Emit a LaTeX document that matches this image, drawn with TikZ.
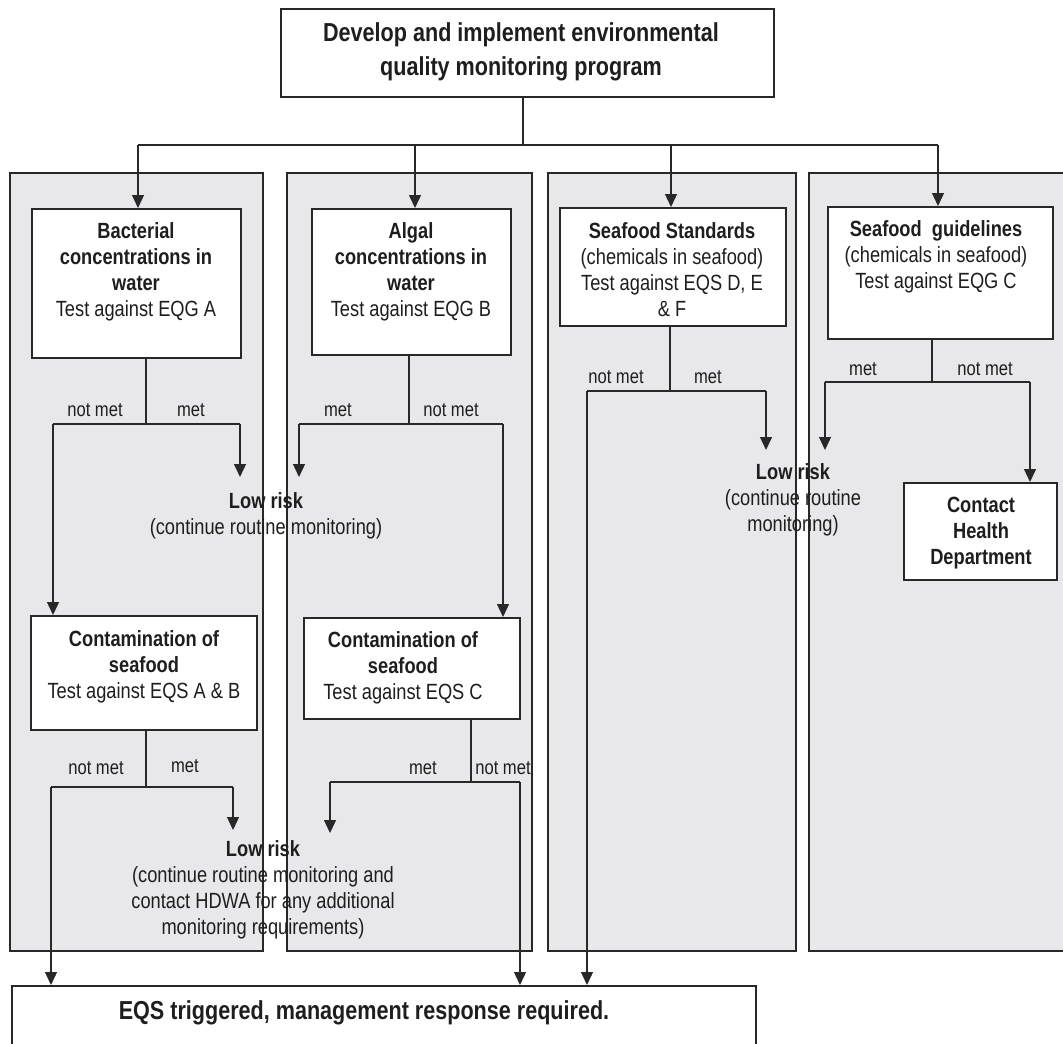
\documentclass[tikz,border=0pt]{standalone}
\usepackage{fontspec}
\setmainfont{Liberation Sans}[FakeStretch=0.83]
\usetikzlibrary{arrows.meta}
\definecolor{ln}{RGB}{40,40,40}
\definecolor{pnl}{RGB}{232,232,235}
\definecolor{txt}{RGB}{30,30,30}
\begin{document}
\begin{tikzpicture}[x=1pt,y=-1pt,
  panel/.style={draw=ln,line width=1.6pt,fill=pnl},
  box/.style={draw=ln,line width=1.6pt,fill=white,inner sep=0pt,anchor=north west},
  body/.style={font=\fontsize{22}{26}\selectfont,align=center,text=txt,inner sep=0pt},
  big/.style={font=\fontsize{26}{34}\selectfont\bfseries,align=center,text=txt,inner sep=0pt},
  lab/.style={font=\fontsize{20}{24}\selectfont,text=txt,inner sep=0pt},
  conn/.style={draw=ln,line width=1.3pt},
  arr/.style={conn,-{Triangle[length=13pt,width=12pt]}}]
\useasboundingbox (0,0) rectangle (1063,1044);
\clip (0,0) rectangle (1063,1044);

% column panels
\draw[panel] (10,173) rectangle (263,951);
\draw[panel] (287,173) rectangle (532,951);
\draw[panel] (548,173) rectangle (796,951);
\draw[panel] (809,173) rectangle (1075,951);

% boxes
\node[box,minimum width=493pt,minimum height=88pt] (top) at (280,8) {};
\node[big] (topt) at (521,52) {Develop and implement environmental\\quality monitoring program};
\node[box,minimum width=209pt,minimum height=149pt] (bact) at (31,208) {};
\node[box,minimum width=199pt,minimum height=146pt] (alg) at (311,208) {};
\node[box,minimum width=226pt,minimum height=118pt] (std) at (559,207) {};
\node[box,minimum width=225pt,minimum height=132pt] (gdl) at (827,206) {};
\node[box,minimum width=226pt,minimum height=114pt] (con1) at (30,615) {};
\node[box,minimum width=216pt,minimum height=101pt] (con2) at (303,617) {};
\node[box,minimum width=153pt,minimum height=97pt] (hd) at (903,482) {};
\node[box,minimum width=744pt,minimum height=90pt] (eqs) at (11,985) {};

% box texts
\node[body] (bactt) at (136,272) {\textbf{Bacterial}\\\textbf{concentrations in}\\\textbf{water}\\Test against EQG A};
\node[body] (algt) at (411,272) {\textbf{Algal}\\\textbf{concentrations in}\\\textbf{water}\\Test against EQG B};
\node[body] (stdt) at (672,270) {\textbf{Seafood Standards}\\(chemicals in seafood)\\Test against EQS D, E\\\& F};
\node[body] (gdlt) at (936,257) {\textbf{Seafood\ \ guidelines}\\(chemicals in seafood)\\Test against EQG C};
\node[body] (con1t) at (144,667) {\textbf{Contamination of}\\\textbf{seafood}\\Test against EQS A \& B};
\node[body] (con2t) at (403,668) {\textbf{Contamination of}\\\textbf{seafood}\\Test against EQS C};
\node[body] (hdt) at (981,533) {\textbf{Contact}\\\textbf{Health}\\\textbf{Department}};
\node[big] (eqst) at (364,1013) {EQS triggered, management response required.};

% outcome texts
\node[body] (lr1) at (266,516) {\textbf{Low risk}\\(continue routine monitoring)};
\node[body] (lr2) at (263,890) {\textbf{Low risk}\\(continue routine monitoring and\\contact HDWA for any additional\\monitoring requirements)};
\node[body] (lr3) at (793,500) {\textbf{Low risk}\\(continue routine\\monitoring)};

% distribution from the programme box
\coordinate (hub) at (523,145);
\coordinate (a1) at (138,145);
\coordinate (a2) at (415,145);
\coordinate (a3) at (671,145);
\coordinate (a4) at (938,145);
\draw[conn] (hub |- top.south) -- (hub);
\draw[conn] (a1) -- (a4);
\draw[arr] (a1) -- (a1 |- bact.north);
\draw[arr] (a2) -- (a2 |- alg.north);
\draw[arr] (a3) -- (a3 |- std.north);
\draw[arr] (a4) -- (a4 |- gdl.north);

% bacterial branch
\coordinate (b0) at (146,424);
\coordinate (bl) at (53,424);
\coordinate (br) at (240,424);
\coordinate (bm) at (240,477);
\draw[conn] (b0 |- bact.south) -- (b0);
\draw[conn] (bl) -- (br);
\draw[arr] (bl) -- (bl |- con1.north);
\draw[arr] (br) -- (bm);
\node[lab] (bln) at (95,410) {not met};
\node[lab] (blm) at (191,410) {met};

% algal branch
\coordinate (g0) at (409,424);
\coordinate (gl) at (299,424);
\coordinate (gr) at (503,424);
\coordinate (gm) at (299,477);
\draw[conn] (g0 |- alg.south) -- (g0);
\draw[conn] (gl) -- (gr);
\draw[arr] (gl) -- (gm);
\draw[arr] (gr) -- (gr |- con2.north);
\node[lab] (glm) at (338,410) {met};
\node[lab] (gln) at (451,410) {not met};

% seafood contamination, first column
\coordinate (c0) at (146,787);
\coordinate (cl) at (51,787);
\coordinate (cr) at (233,787);
\coordinate (cm) at (233,830);
\draw[conn] (c0 |- con1.south) -- (c0);
\draw[conn] (cl) -- (cr);
\draw[arr] (cl) -- (cl |- eqs.north);
\draw[arr] (cr) -- (cm);
\node[lab] (cln) at (96,768) {not met};
\node[lab] (clm) at (185,766) {met};

% seafood contamination, second column
\coordinate (d0) at (471,782);
\coordinate (dl) at (330,782);
\coordinate (dr) at (520,782);
\coordinate (dm) at (330,833);
\draw[conn] (d0 |- con2.south) -- (d0);
\draw[conn] (dl) -- (dr);
\draw[arr] (dl) -- (dm);
\draw[arr] (dr) -- (dr |- eqs.north);
\node[lab] (dlm) at (423,768) {met};
\node[lab] (dln) at (503,768) {not met};

% seafood standards branch
\coordinate (s0) at (670,391);
\coordinate (sl) at (587,391);
\coordinate (sr) at (766,391);
\coordinate (sm) at (766,450);
\draw[conn] (s0 |- std.south) -- (s0);
\draw[conn] (sl) -- (sr);
\draw[arr] (sl) -- (sl |- eqs.north);
\draw[arr] (sr) -- (sm);
\node[lab] (sln) at (616,377) {not met};
\node[lab] (slm) at (708,377) {met};

% seafood guidelines branch
\coordinate (h0) at (932,382);
\coordinate (hl) at (825,382);
\coordinate (hr) at (1030,382);
\coordinate (hm) at (825,450);
\draw[conn] (h0 |- gdl.south) -- (h0);
\draw[conn] (hl) -- (hr);
\draw[arr] (hl) -- (hm);
\draw[arr] (hr) -- (hr |- hd.north);
\node[lab] (hlm) at (863,369) {met};
\node[lab] (hln) at (985,369) {not met};
\end{tikzpicture}
\end{document}
